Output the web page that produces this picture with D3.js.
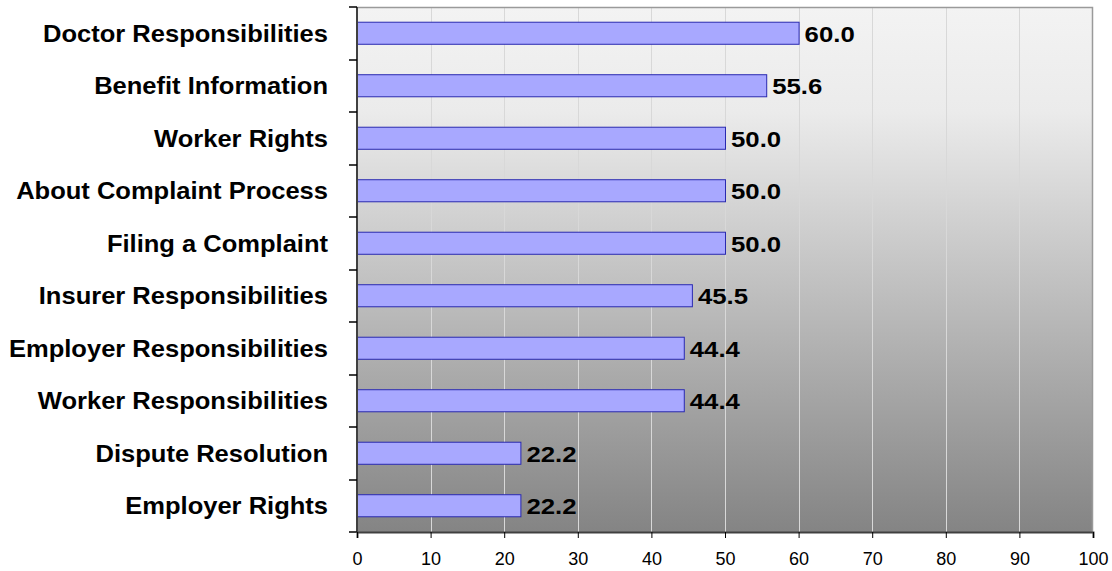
<!DOCTYPE html>
<html>
<head>
<meta charset="utf-8">
<script src="https://cdn.jsdelivr.net/npm/d3@7"></script>
<style>
  html, body { margin: 0; padding: 0; background: #fff; }
  svg { display: block; font-family: "Liberation Sans", Arial, sans-serif; }
</style>
</head>
<body>
<svg id="chart" width="1112" height="571"></svg>
<script>
// Categories top to bottom, with their percentage values
const categories = [
  "Doctor Responsibilities",
  "Benefit Information",
  "Worker Rights",
  "About Complaint Process",
  "Filing a Complaint",
  "Insurer Responsibilities",
  "Employer Responsibilities",
  "Worker Responsibilities",
  "Dispute Resolution",
  "Employer Rights"
];
const values = [60.0, 55.6, 50.0, 50.0, 50.0, 45.5, 44.4, 44.4, 22.2, 22.2];
const xTicks = [0, 10, 20, 30, 40, 50, 60, 70, 80, 90, 100];

const svg = d3.select("#chart");
const margin = { left: 357, right: 19, top: 7, bottom: 39 };
const W = 1112, H = 571;
const pw = W - margin.left - margin.right;
const ph = H - margin.top - margin.bottom;

// Bold text is drawn slightly widened horizontally
const labelSize = 23, labelStretch = 1.11;
const valueSize = 23, valueStretch = 1.12;
const tickFont = 18;

const x = d3.scaleLinear().domain([0, 100]).range([0, pw]);
const y = d3.scaleBand().domain(categories).range([0, ph]).paddingInner(0.58).paddingOuter(0.29);
const yBand = d3.scaleBand().domain(categories).range([0, ph]);

// Plot background gradient
const defs = svg.append("defs");
const grad = defs.append("linearGradient").attr("id", "bg").attr("x1", 0).attr("y1", 0).attr("x2", 0).attr("y2", 1);
[[0, "#f3f3f3"], [0.2, "#ebebeb"], [0.5, "#c4c4c4"], [0.78, "#a0a0a0"], [1, "#848484"]]
  .forEach(([o, c]) => grad.append("stop").attr("offset", o).attr("stop-color", c));

const g = svg.append("g").attr("transform", `translate(${margin.left},${margin.top})`);

g.append("rect").attr("width", pw).attr("height", ph).attr("fill", "url(#bg)");

// Vertical gridlines
g.selectAll(".grid").data(xTicks.slice(1, -1)).enter().append("line")
  .attr("x1", d => Math.round(x(d)) + 0.5).attr("x2", d => Math.round(x(d)) + 0.5)
  .attr("y1", 0).attr("y2", ph)
  .attr("stroke", "#d8d8d8").attr("stroke-width", 1);

// Top and right border
g.append("path").attr("d", `M0,0.5H${pw - 0.5}V${ph}`)
  .attr("fill", "none").attr("stroke", "#9a9a9a").attr("stroke-width", 1.5);

// Bars
g.selectAll(".bar").data(values).enter().append("rect")
  .attr("x", 0.5)
  .attr("y", (d, i) => y(categories[i]))
  .attr("width", d => x(d))
  .attr("height", y.bandwidth())
  .attr("fill", "#a8a8ff")
  .attr("stroke", "#2a2ab0")
  .attr("stroke-width", 1);

// Value labels
g.selectAll(".val").data(values).enter().append("text")
  .attr("transform", (d, i) => `translate(${x(d) + 6},${y(categories[i]) + y.bandwidth() / 2}) scale(${valueStretch},1)`)
  .attr("dy", "0.36em")
  .attr("font-size", valueSize).attr("font-weight", "bold").attr("fill", "#000")
  .text(d => d.toFixed(1));

// Y axis: line, boundary ticks and labels
g.append("line").attr("x1", 0).attr("x2", 0).attr("y1", 0).attr("y2", ph)
  .attr("stroke", "#404040").attr("stroke-width", 2);
const bounds = categories.map(c => yBand(c)).concat([ph]);
g.selectAll(".ytick").data(bounds).enter().append("line")
  .attr("x1", -8).attr("x2", 0)
  .attr("y1", d => Math.round(d)).attr("y2", d => Math.round(d))
  .attr("stroke", "#000").attr("stroke-width", 1.5);
g.selectAll(".ylab").data(categories).enter().append("text")
  .attr("transform", d => `translate(-29,${y(d) + y.bandwidth() / 2}) scale(${labelStretch},1)`)
  .attr("dy", "0.36em")
  .attr("text-anchor", "end")
  .attr("font-size", labelSize).attr("font-weight", "bold").attr("fill", "#000")
  .text(d => d);

// X axis
const xAxis = g.append("g").attr("transform", `translate(0,${ph})`)
  .call(d3.axisBottom(x).tickValues(xTicks).tickSize(6).tickPadding(14).tickFormat(d3.format("d")));
xAxis.attr("font-size", tickFont).attr("font-family", "'Liberation Sans', Arial, sans-serif");
xAxis.select(".domain").attr("stroke", "#404040").attr("stroke-width", 2);
xAxis.selectAll(".tick line").attr("stroke", "#000");
xAxis.selectAll(".tick text").attr("fill", "#000").style("font-size", tickFont + "px");
</script>
</body>
</html>
